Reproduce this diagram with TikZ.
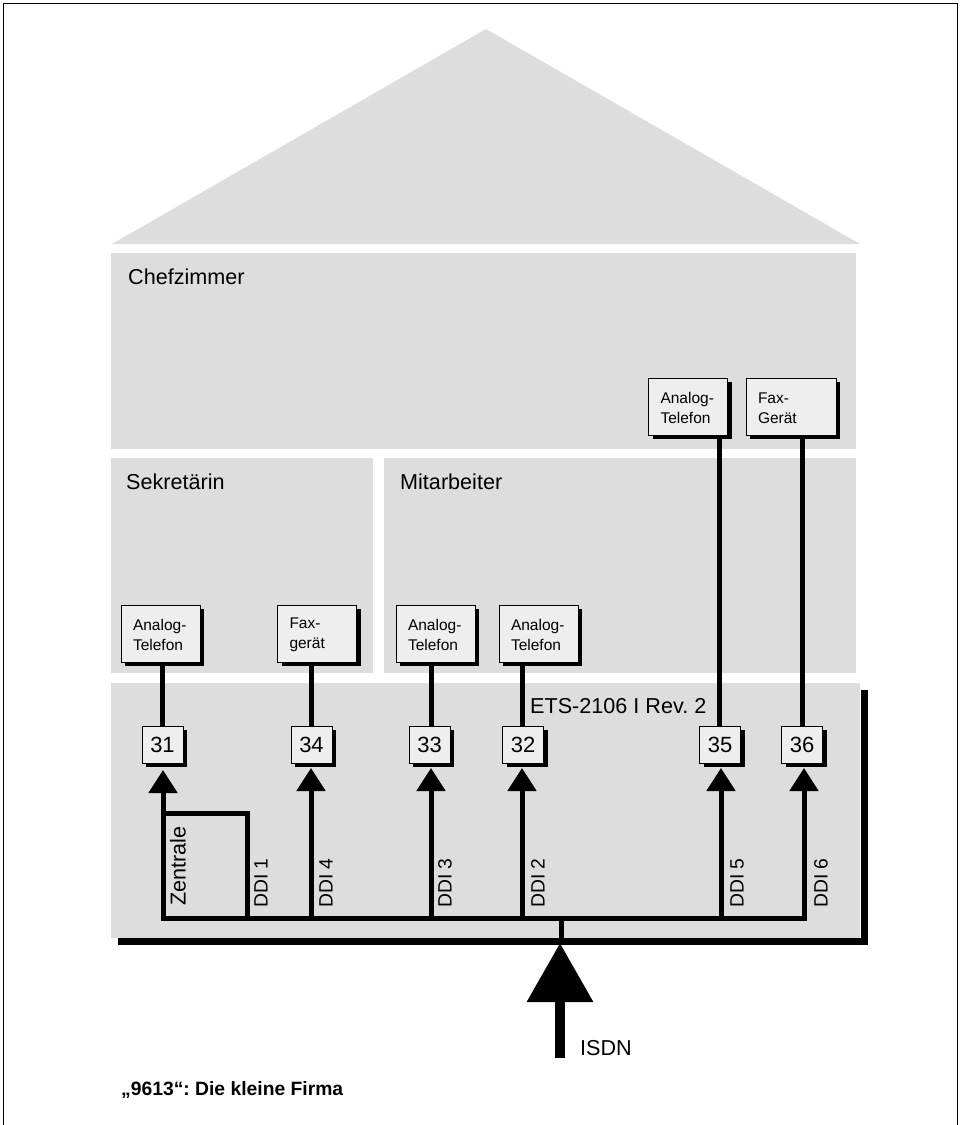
\documentclass[tikz,border=0pt]{standalone}
\usepackage{fontspec}
\setmainfont{Liberation Sans}
\usetikzlibrary{arrows.meta, positioning, shadows}
\definecolor{roomgray}{RGB}{221,221,221}
\definecolor{boxgray}{RGB}{238,238,238}
\frenchspacing
\begin{document}
\begin{tikzpicture}[
    x=1pt, y=-1pt,
    room/.style={fill=roomgray, draw=none},
    device/.style={
        rectangle, draw=black, line width=1pt,
        fill=boxgray,
        minimum width=79pt, minimum height=57pt,
        inner sep=0pt, text width=55pt, align=left,
        font=\fontsize{15.5}{20}\selectfont,
        execute at begin node=\strut,
        general shadow={fill=black, shadow xshift=4pt, shadow yshift=-4pt}
    },
    port/.style={
        rectangle, draw=black, line width=1pt,
        fill=boxgray,
        minimum width=41pt, minimum height=37pt,
        inner sep=0pt,
        font=\fontsize{22}{24}\selectfont,
        general shadow={fill=black, shadow xshift=4pt, shadow yshift=-4pt}
    },
    wire/.style={line width=5pt},
    arr/.style={line width=5pt, -{Triangle[length=23pt, width=28pt]}},
    lbl/.style={font=\fontsize{21.6}{24}\selectfont, inner sep=0pt},
    ddi/.style={font=\fontsize{19.3}{20}\selectfont, rotate=90, anchor=west, inner sep=0pt},
]

% Rahmen
\useasboundingbox (0,0) rectangle (961,1125);
\draw[line width=1.5pt] (3.5,1125) -- (3.5,3.5) -- (957.5,3.5) -- (957.5,1125);

% Haus
\fill[room] (112,244) -- (486,29) -- (860,244) -- cycle;
\fill[room] (111,253) rectangle (856,449);
\fill[room] (111,458) rectangle (373,673);
\fill[room] (384,458) rectangle (856,673);
\fill[room] (111,683) rectangle (860,938);
\coordinate (sh1) at (118,941);
\coordinate (sh2) at (864,941);
\coordinate (sh3) at (864,690);
\draw[line width=7pt] (sh1) -- (sh2) -- (sh3);

% Raeume
\node[lbl, anchor=west] (chef) at (128,277) {Chefzimmer};
\node[lbl, anchor=west] (sekr) at (126,482) {Sekretärin};
\node[lbl, anchor=west] (mitarb) at (400,482) {Mitarbeiter};
\node[lbl, anchor=west] (ets) at (530,706) {ETS-2106 I Rev. 2};

% Leitungen oben
\coordinate (w31) at (162,662);
\coordinate (w34) at (311,662);
\coordinate (w33) at (431,662);
\coordinate (w32) at (522,662);
\coordinate (w35) at (719,435);
\coordinate (w36) at (802,435);
\coordinate (p31) at (162,726);
\coordinate (p34) at (311,726);
\coordinate (p33) at (431,726);
\coordinate (p32) at (522,726);
\coordinate (p35) at (719,726);
\coordinate (p36) at (802,726);
\foreach \n in {31,34,33,32,35,36}
    \draw[wire] (w\n) -- (p\n);

% Endgeraete
\node[device] (tel31) at (160.5,633.5) {Analog-\\Telefon};
\node[device] (fax34) at (317,633.5) {Fax-\\gerät};
\node[device] (tel33) at (435.5,633.5) {Analog-\\Telefon};
\node[device] (tel32) at (538.5,633.5) {Analog-\\Telefon};
\node[device] (tel35) at (688,406.5) {Analog-\\Telefon};
\node[device, minimum width=90pt, text width=66pt] (fax36) at (791,406.5) {Fax-\\Gerät};

% Ports
\node[port] (n31) at (162.5,744.5) {31};
\node[port] (n34) at (311.5,744.5) {34};
\node[port] (n33) at (429.5,744.5) {33};
\node[port] (n32) at (523,744.5) {32};
\node[port] (n35) at (720,744.5) {35};
\node[port] (n36) at (802,744.5) {36};

% Bus
\coordinate (b31) at (163,918);
\coordinate (b34) at (311,918);
\coordinate (b33) at (431,918);
\coordinate (b32) at (522,918);
\coordinate (b35) at (721,918);
\coordinate (b36) at (804,918);
\coordinate (t31) at (163,770);
\coordinate (t34) at (311,768);
\coordinate (t33) at (431,768);
\coordinate (t32) at (522,768);
\coordinate (t35) at (721,768);
\coordinate (t36) at (804,768);
\draw[line width=5pt, line cap=rect] (b31) -- (b36);
\foreach \n in {31,34,33,32,35,36}
    \draw[arr] (b\n) -- (t\n);

% Zentrale
\coordinate (z1) at (163,813);
\coordinate (z2) at (247,813);
\coordinate (z3) at (247,918);
\draw[line width=5pt] (z1) -- (z2) -- (z3);
\node[ddi, font=\fontsize{21.6}{24}\selectfont] (zentrale) at (178,906) {Zentrale};
\node[ddi] (ddi1) at (261,908) {DDI 1};
\node[ddi] (ddi4) at (326,908) {DDI 4};
\node[ddi] (ddi3) at (445,908) {DDI 3};
\node[ddi] (ddi2) at (538,908) {DDI 2};
\node[ddi] (ddi5) at (737,908) {DDI 5};
\node[ddi] (ddi6) at (821,908) {DDI 6};

% ISDN
\coordinate (stub) at (561,918);
\coordinate (stubend) at (561,945);
\coordinate (isdnend) at (560,1058);
\coordinate (isdntip) at (560,943);
\draw[line width=5pt] (stub) -- (stubend);
\draw[line width=10pt, -{Triangle[length=59pt, width=64pt]}] (isdnend) -- (isdntip);
\node[lbl, anchor=west] (isdn) at (580,1048) {ISDN};

% Titel
\node[lbl, anchor=west, font=\fontsize{19.3}{22}\selectfont\bfseries] (titel) at (121,1090) {„9613“: Die kleine Firma};

\end{tikzpicture}
\end{document}
